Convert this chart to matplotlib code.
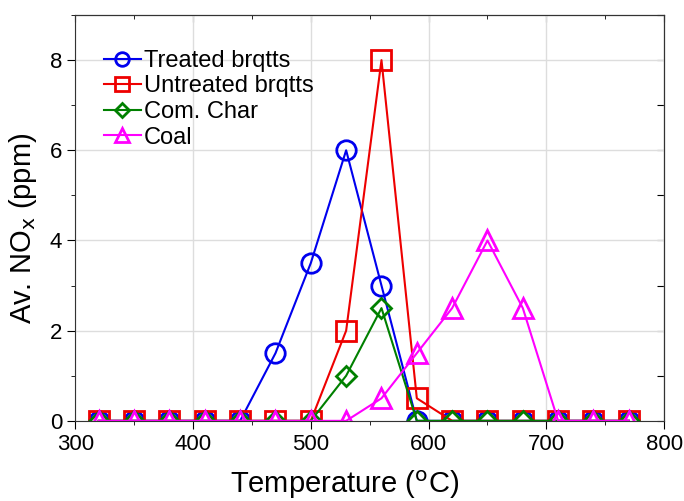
import matplotlib
matplotlib.use("Agg")
import matplotlib.pyplot as plt
from matplotlib.ticker import MultipleLocator

plt.rcParams['font.family'] = ['Liberation Sans', 'DejaVu Sans']

temperature = [320, 350, 380, 410, 440, 470, 500, 530, 560, 590, 620, 650, 680, 710, 740, 770]
treated = [0, 0, 0, 0, 0, 1.5, 3.5, 6, 3, 0, 0, 0, 0, 0, 0, 0]
untreated = [0, 0, 0, 0, 0, 0, 0, 2, 8, 0.5, 0, 0, 0, 0, 0, 0]
com_char = [0, 0, 0, 0, 0, 0, 0, 1, 2.5, 0, 0, 0, 0, 0, 0, 0]
coal = [0, 0, 0, 0, 0, 0, 0, 0, 0.5, 1.5, 2.5, 4, 2.5, 0, 0, 0]

fig = plt.figure(figsize=(6.84, 5.01), dpi=100)
ax = fig.add_axes([0.110, 0.160, 0.861, 0.810])

ax.plot(temperature, treated, '-o', color='#0000ee', mfc='none', mew=2, ms=14, lw=1.5, label='Treated brqtts')
ax.plot(temperature, untreated, '-s', color='#ee0000', mfc='none', mew=2, ms=14, lw=1.5, label='Untreated brqtts')
ax.plot(temperature, com_char, '-D', color='#008000', mfc='none', mew=2, ms=10.5, lw=1.5, label='Com. Char')
ax.plot(temperature, coal, '-^', color='#ff00ff', mfc='none', mew=2, ms=15, lw=1.5, label='Coal')

ax.set_xlim(300, 800)
ax.set_ylim(0, 9)
ax.xaxis.set_major_locator(MultipleLocator(100))
ax.xaxis.set_minor_locator(MultipleLocator(50))
ax.yaxis.set_major_locator(MultipleLocator(2))
ax.yaxis.set_minor_locator(MultipleLocator(1))
ax.tick_params(which='both', direction='out', labelsize=16, top=False, right=False)
ax.tick_params(which='major', length=6)
ax.tick_params(which='minor', length=3)
ax.grid(True, which='major', color='#dddddd', lw=1)
ax.set_axisbelow(True)

ax2 = ax.secondary_xaxis('top')
ax2.xaxis.set_minor_locator(MultipleLocator(50))
ax2.tick_params(which='both', direction='in', labeltop=False)
ax2.tick_params(which='major', length=5)
ax2.tick_params(which='minor', length=3)
ax3 = ax.secondary_yaxis('right')
ax3.yaxis.set_minor_locator(MultipleLocator(1))
ax3.tick_params(which='both', direction='in', labelright=False)
ax3.tick_params(which='major', length=5)
ax3.tick_params(which='minor', length=3)

for s in ax.spines.values():
    s.set_color('#333333')

ax.set_xlabel('Temperature ($^{\\mathrm{o}}$C)', fontsize=21)
ax.set_ylabel('Av. NO$_\\mathrm{x}$ (ppm)', fontsize=21)
ax.xaxis.set_label_coords(0.458, -0.118)
ax.yaxis.set_label_coords(-0.062, 0.475)

ax.legend(loc='upper left', bbox_to_anchor=(0.048, 0.914), frameon=False, fontsize=17,
          handlelength=1.57, handletextpad=0.13, labelspacing=0.15, borderaxespad=0,
          borderpad=0, markerscale=0.7)

fig.savefig('out.png', dpi=100)
